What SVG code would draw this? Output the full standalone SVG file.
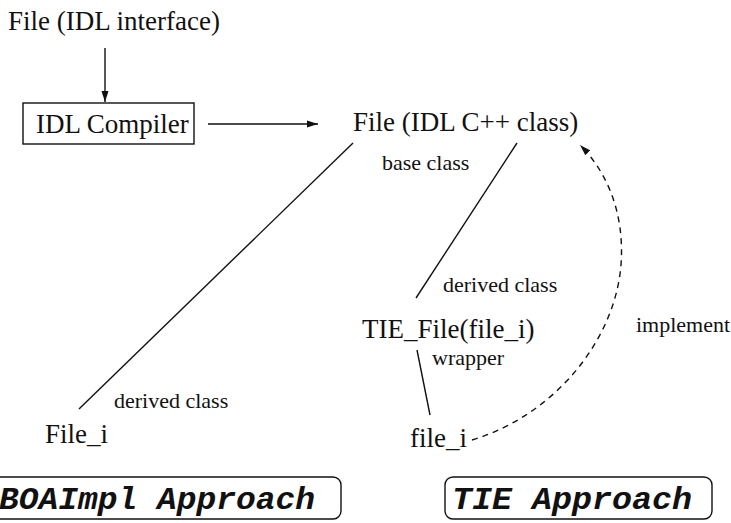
<svg xmlns="http://www.w3.org/2000/svg" width="731" height="523" viewBox="0 0 731 523">
  <style>
    .big { font-family: "Liberation Serif", "Times New Roman", serif; font-size: 27px; fill: #111; }
    .small { font-family: "Liberation Serif", "Times New Roman", serif; font-size: 22px; fill: #111; }
    .mono { font-family: "Liberation Mono", "Courier New", monospace; font-size: 32px; font-weight: bold; font-style: italic; fill: #111; }
    .edge { fill: none; stroke: #111; stroke-width: 1.4; }
    .dash { stroke-dasharray: 6 5; }
    .frame { fill: #fff; stroke: #111; stroke-width: 1.4; }
  </style>
  <defs>
    <marker id="head" markerUnits="userSpaceOnUse" markerWidth="11" markerHeight="8" refX="11" refY="4" orient="auto">
      <path d="M0,0.5 L11,4 L0,7.5 z" fill="#111"/>
    </marker>
  </defs>
  <rect width="731" height="523" fill="#fff"/>

  <!-- connectors -->
  <g id="connectors">
    <path class="edge" d="M105,48 L105,102" marker-end="url(#head)"/>
    <path class="edge" d="M208,124 L318,124" marker-end="url(#head)"/>
    <path class="edge" d="M353,143 L79,409"/>
    <path class="edge" d="M517,143 L416,298"/>
    <path class="edge" d="M417,350 L430,415"/>
    <path class="edge dash" d="M472,440 C555,415 615,340 621,265 C625,210 605,170 580,145" marker-end="url(#head)"/>
  </g>

  <g id="idl-interface">
    <text class="big" x="8" y="30">File (IDL interface)</text>
  </g>

  <g id="idl-compiler">
    <rect class="frame" x="23" y="103" width="171" height="41"/>
    <text class="big" x="36" y="133">IDL Compiler</text>
  </g>

  <g id="cpp-class">
    <text class="big" x="353" y="131">File (IDL C++ class)</text>
    <text class="small" x="382" y="170">base class</text>
  </g>

  <g id="boa-impl">
    <text class="small" x="114" y="408">derived class</text>
    <text class="big" x="45" y="443">File_i</text>
  </g>

  <g id="tie-file">
    <text class="small" x="443" y="292">derived class</text>
    <text class="big" x="362" y="338">TIE_File(file_i)</text>
    <text class="small" x="432" y="365">wrapper</text>
  </g>

  <g id="file-i">
    <text class="big" x="410" y="447">file_i</text>
    <text class="small" x="636" y="332">implement</text>
  </g>

  <g id="boa-approach">
    <rect class="frame" x="-20" y="477" width="361" height="42" rx="8"/>
    <text class="mono" x="-1" y="509" textLength="316" lengthAdjust="spacingAndGlyphs">BOAImpl Approach</text>
  </g>

  <g id="tie-approach">
    <rect class="frame" x="445" y="477" width="267" height="42" rx="8"/>
    <text class="mono" x="452" y="509" textLength="240" lengthAdjust="spacingAndGlyphs">TIE Approach</text>
  </g>
</svg>
